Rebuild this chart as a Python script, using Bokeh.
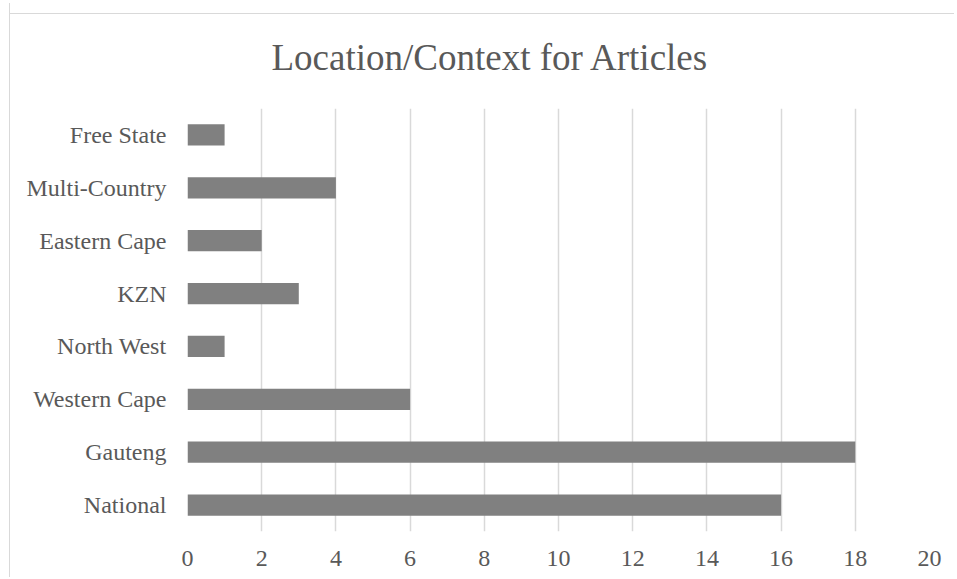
from bokeh.plotting import figure
from bokeh.models import FactorRange, Range1d, FixedTicker
from bokeh.embed import file_html
from bokeh.resources import INLINE

categories = ["National", "Gauteng", "Western Cape", "North West", "KZN",
              "Eastern Cape", "Multi-Country", "Free State"]
counts = [16, 18, 6, 1, 3, 2, 4, 1]
x_ticks = [0, 2, 4, 6, 8, 10, 12, 14, 16, 18, 20]
title_text = "Location/Context for Articles"

FONT = "Liberation Serif"
TXT = "#595959"

p = figure(
    width=945, height=574,
    y_range=FactorRange(factors=categories, range_padding=0),
    x_range=Range1d(0, 20),
    output_backend="svg", toolbar_location=None,
    min_border_left=177, min_border_right=26, min_border_top=0, min_border_bottom=46,
    margin=(3, 0, 0, 9),
    styles={
        "border-left": "1px solid #d9d9d9",
        "background-color": "white",
        "background-image": "linear-gradient(#d9d9d9, #d9d9d9)",
        "background-size": "100% 1px",
        "background-position": "0 10px",
        "background-repeat": "no-repeat",
    },
)

p.hbar(y=categories, right=counts, left=0, height=0.4,
       fill_color="#808080", line_color=None)

p.title.text = title_text
p.title.align = "left"
p.title.offset = 84
p.title.standoff = 62
p.title.text_line_height = 1.0
p.title.text_font = FONT
p.title.text_font_size = "37px"
p.title.text_font_style = "normal"
p.title.text_color = TXT

p.outline_line_color = None
p.background_fill_color = "white"
p.border_fill_alpha = 0

p.xaxis.ticker = FixedTicker(ticks=x_ticks)
p.xgrid.ticker = FixedTicker(ticks=x_ticks)
p.xgrid.grid_line_color = "#d9d9d9"
p.xgrid.grid_line_width = 1.5
p.ygrid.grid_line_color = None

for ax in (p.xaxis, p.yaxis):
    ax.axis_line_color = None
    ax.major_tick_line_color = None
    ax.minor_tick_line_color = None
    ax.major_tick_out = 0
    ax.major_tick_in = 0
    ax.major_label_text_font = FONT
    ax.major_label_text_font_size = "24px"
    ax.major_label_text_color = TXT

p.xaxis.major_label_standoff = 19
p.yaxis.major_label_standoff = 21

open("out.html", "w").write(file_html(p, INLINE))
